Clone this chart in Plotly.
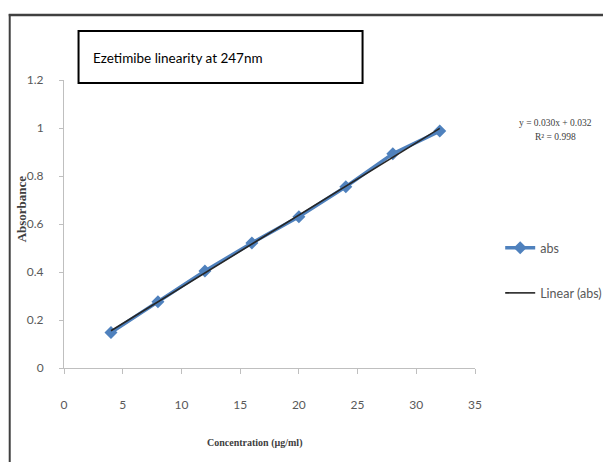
import numpy as np
import plotly.graph_objects as go

# Data
concentration = [4, 8, 12, 16, 20, 24, 28, 32]
absorbance = [0.148, 0.276, 0.404, 0.521, 0.630, 0.755, 0.893, 0.987]
x_ticks = [0, 5, 10, 15, 20, 25, 30, 35]
y_ticks = [0, 0.2, 0.4, 0.6, 0.8, 1.0, 1.2]
title_text = "Ezetimibe linearity at 247nm"
equation_text = "y = 0.030x + 0.032"
r2_text = "R² = 0.998"

slope, intercept = np.polyfit(concentration, absorbance, 1)
fit_vals = [slope * c + intercept for c in concentration]

SANS = "Lato, sans-serif"
SERIF = "Liberation Serif, DejaVu Serif, serif"
OFF = 8  # page body margin
W, H = 611, 462
PW, PH = 424, 288
ML, MT = 64 - OFF, 80 - OFF
MR, MB = W - ML - PW, H - MT - PH


def px(sx):
    return (sx - OFF - ML) / PW


def py(sy):
    return (H - MB - (sy - OFF)) / PH


fig = go.Figure()
fig.add_trace(go.Scatter(
    x=concentration, y=absorbance, mode="lines+markers", name="abs",
    line=dict(color="#4F81BD", width=3.5),
    marker=dict(symbol="diamond", size=10, color="#4F81BD"),
    legendgroup="a",
))
fig.add_trace(go.Scatter(
    x=concentration, y=fit_vals, mode="lines", name="Linear (abs)",
    line=dict(color="#262626", width=1.6),
    legendgroup="b",
))

axis_common = dict(
    showgrid=False, zeroline=False, showline=True, linecolor="#BFBFBF",
    linewidth=1, ticks="outside", tickcolor="#BFBFBF",
    tickfont=dict(family=SANS, size=12, color="#595959"),
)
fig.update_xaxes(range=[0, 35], tickvals=x_ticks, ticklen=5,
                 ticklabelstandoff=21, **axis_common)
fig.update_yaxes(range=[0, 1.2], tickvals=y_ticks, ticklen=4,
                 ticklabelstandoff=13, **axis_common)

shapes = [
    # outer chart border (top and left visible)
    dict(type="line", xref="paper", yref="paper", x0=px(7), x1=px(W + 20),
         y0=py(15), y1=py(15), line=dict(color="#404040", width=2.5)),
    dict(type="line", xref="paper", yref="paper", x0=px(8), x1=px(8),
         y0=py(14), y1=py(H + 20), line=dict(color="#404040", width=2)),
    # title box
    dict(type="rect", xref="paper", yref="paper", x0=px(79), x1=px(372),
         y0=py(83), y1=py(31), line=dict(color="#000000", width=2),
         fillcolor="white"),
]

annotations = [
    dict(text=title_text, xref="paper", yref="paper", x=px(92), y=py(58),
         xanchor="left", yanchor="middle", showarrow=False,
         font=dict(family=SANS, size=13.5, color="#000000")),
    dict(text=equation_text, xref="paper", yref="paper", x=px(531), y=py(123),
         xanchor="left", yanchor="middle", showarrow=False,
         font=dict(family=SERIF, size=9.5, color="#404040")),
    dict(text=r2_text, xref="paper", yref="paper", x=px(571), y=py(137),
         xanchor="center", yanchor="middle", showarrow=False,
         font=dict(family=SERIF, size=9.5, color="#404040")),
    dict(text="<b>Absorbance</b>", xref="paper", yref="paper", x=px(20), y=py(209),
         xanchor="center", yanchor="middle", textangle=-90, showarrow=False,
         font=dict(family=SERIF, size=13, color="#404040")),
    dict(text="<b>Concentration (µg/ml)</b>", xref="paper", yref="paper",
         x=px(261), y=py(443), xanchor="center", yanchor="middle",
         showarrow=False, font=dict(family=SERIF, size=10, color="#404040")),
]

fig.update_layout(
    width=W, height=H,
    margin=dict(l=ML, r=MR, t=MT, b=MB),
    paper_bgcolor="white", plot_bgcolor="white",
    shapes=shapes, annotations=annotations,
    showlegend=True,
    legend=dict(x=px(514), y=py(233), xanchor="left", yanchor="top",
                font=dict(family=SANS, size=12.5, color="#595959"),
                tracegroupgap=26, itemwidth=30, bgcolor="rgba(0,0,0,0)"),
)

fig.write_html("out.html")
